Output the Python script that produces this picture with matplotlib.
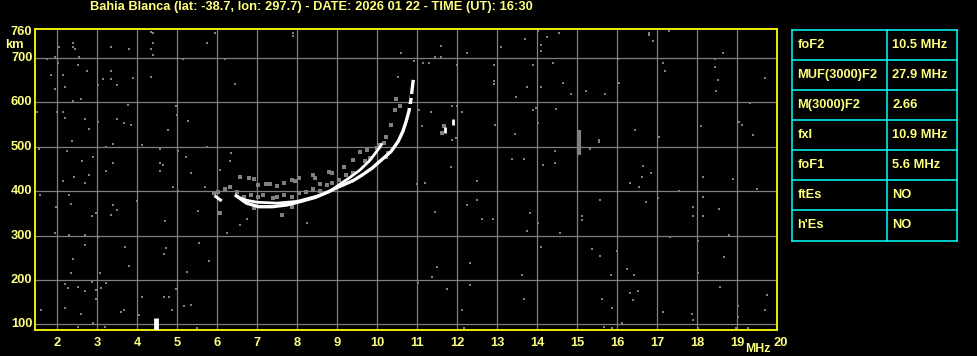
import matplotlib
matplotlib.use("Agg")
import matplotlib.pyplot as plt

# ionogram header
station = "Bahia Blanca"
lat, lon = -38.7, 297.7
date_str = "2026 01 22"
time_str = "16:30"

# frequency / height axes
x_ticks = list(range(2, 20))
y_ticks = [100, 200, 300, 400, 500, 600, 700]

# main echo traces (MHz, km)
trace_lo_f = [6.44, 6.56, 6.73, 7.03, 7.38, 7.74, 8.09, 8.45, 8.69, 9.04, 9.40, 9.63,
              9.87, 10.11, 10.34, 10.52, 10.64, 10.72, 10.79, 10.84, 10.87, 10.90]
trace_lo_h = [392, 384, 373, 365, 365, 369, 377, 386, 395, 410, 424, 437,
              452, 471, 489, 512, 535, 557, 580, 606, 629, 651]
trace_hi_f = [6.45, 6.7, 7.0, 7.5, 8.0, 8.5, 8.8, 9.07, 9.3, 9.57, 9.82, 10.07, 10.12]
trace_hi_h = [390, 380, 375, 373, 377, 389, 399, 416, 430, 448, 470, 500, 508]
trace_low_start_f = [5.96, 6.08]
trace_low_start_h = [388, 380]

# gaps in the steep part of the trace
gap_f = [10.86, 10.81]
gap_h = [615, 592]

# small white echoes
white_f = [11.885, 11.69]
white_h = [555, 537]

# grey clutter next to the trace
clutter_f = [6.68, 6.85, 7.03, 7.15, 7.39, 7.50, 7.68, 7.86, 8.04, 8.21, 8.39, 8.57, 8.75,
             8.86, 9.04, 9.22, 9.40, 9.69, 9.81, 9.99, 10.05, 10.22, 10.28, 6.79, 6.93,
             7.03, 7.21, 7.33, 7.50, 7.68, 7.86, 7.95, 8.04, 8.39, 8.45, 8.57, 8.80, 8.86,
             9.16, 9.40, 9.57, 9.75, 6.56, 6.50, 6.32, 6.20, 5.91, 6.02, 6.08, 6.91, 7.86,
             7.62, 10.34, 10.22, 10.44, 10.58, 10.16, 10.48, 11.62, 11.67]
clutter_h = [388, 391, 388, 391, 384, 388, 391, 388, 395, 399, 406, 401, 414,
             418, 425, 437, 440, 467, 474, 497, 504, 478, 485, 429, 428,
             414, 416, 416, 412, 418, 425, 422, 429, 437, 429, 416, 444, 440,
             455, 470, 489, 493, 433, 399, 410, 406, 395, 399, 350, 361, 365,
             346, 549, 523, 583, 591, 508, 608, 531, 546]

# scattered noise dots
noise_f = [2.03, 2.53, 2.75, 1.85, 2.14, 3.15, 3.33, 3.33, 3.48, 3.03, 3.90, 4.34, 2.20,
           1.94, 2.39, 2.59, 6.44, 10.93, 11.15, 11.29, 12.00, 12.92, 13.89, 14.39, 14.84,
           14.64, 13.75, 14.10, 13.48, 15.23, 15.69, 16.04, 17.14, 17.20, 18.45, 18.53,
           18.47, 19.69, 19.33, 12.92, 12.92, 10.53, 12.12, 12.00, 11.88, 11.34,
           1.49, 2.00, 2.14, 2.18, 2.69, 3.03, 3.48, 3.66, 3.84, 3.78, 4.96, 4.98, 5.28,
           4.76, 2.80, 2.36, 3.40, 4.13, 1.54, 2.24, 3.22, 13.89, 13.97, 14.48, 14.03,
           12.95, 13.44, 15.55, 15.55, 16.45, 17.04, 18.09, 19.04, 19.12, 19.39, 11.67,
           11.86, 11.97, 11.11, 11.05,
           4.58, 5.03, 5.21, 4.58, 4.64, 5.73, 2.63, 2.89, 3.22, 3.40, 4.57, 5.34, 2.80,
           2.42, 2.14, 2.68, 4.90, 5.02, 5.69, 6.32, 6.34, 6.08, 10.99, 11.19, 11.84,
           12.50, 13.38, 13.68, 14.15, 14.45, 14.45, 15.31, 16.32, 16.55, 16.61, 16.65,
           16.85, 18.15, 18.90, 19.49, 17.54,
           1.56, 2.30, 1.98, 2.33, 3.40, 3.48, 3.34, 2.98, 2.87, 3.99, 4.69, 5.53, 6.08,
           6.73, 6.56, 6.24, 7.60, 8.24, 1.94, 2.30, 2.69, 3.03, 12.24, 12.50, 11.44,
           12.63, 12.89, 13.83, 14.03, 13.74, 14.58, 15.13, 15.13, 15.58, 16.73, 17.03,
           17.89, 17.89, 18.15, 18.15, 18.54, 18.80,
           2.69, 3.69, 4.72, 4.66, 5.55, 5.79, 2.39, 3.80, 3.07, 2.33, 5.23, 11.49, 11.38,
           12.33, 14.09, 15.37, 15.58, 16.00, 16.25, 16.43, 17.32, 18.03, 18.03, 18.68,
           15.84, 13.63,
           2.20, 2.27, 2.87, 3.22, 2.98, 3.10, 2.51, 2.69, 2.98, 4.96, 4.66, 4.78, 3.66,
           3.60, 4.04, 2.18, 1.59, 2.59, 4.88, 5.16, 5.34, 4.13, 11.03, 11.74, 12.12,
           12.33, 13.68, 15.63, 15.88, 16.32, 16.53, 16.40, 17.87, 17.89, 18.56, 19.01,
           19.01, 19.69, 19.75, 17.14,
           2.51, 2.89, 3.19, 5.49, 12.18, 15.67, 15.87, 16.12, 18.03, 18.96, 19.27,
           1.74, 1.94, 2.04, 2.39, 2.39, 2.44, 2.54, 3.34, 3.79, 4.34, 4.39, 4.39, 4.34,
           4.39, 5.14, 5.74, 5.94, 6.19, 7.89, 7.89, 10.59, 11.59, 11.59, 11.44, 12.24,
           13.09, 13.69, 14.02, 14.09, 14.09, 14.24, 14.54, 16.79, 16.79, 16.89, 17.29,
           18.64, 18.44, 16.02]
noise_h = [690, 685, 672, 662, 662, 653, 653, 672, 640, 640, 655, 658, 636,
           630, 604, 607, 641, 694, 690, 690, 685, 685, 685, 690, 619,
           645, 636, 636, 613, 627, 619, 645, 690, 672, 681, 651,
           627, 655, 598, 649, 641, 658, 578, 591, 591, 578,
           578, 578, 578, 564, 563, 557, 563, 553, 549, 594, 591, 572, 559,
           537, 540, 513, 506, 504, 496, 491, 499, 583, 587, 585, 553,
           549, 529, 516, 510, 537, 523, 546, 557, 549, 527, 546,
           516, 519, 546, 583,
           496, 491, 476, 463, 459, 499, 469, 476, 446, 463, 446, 440, 437,
           433, 422, 418, 410, 401, 409, 467, 485, 448, 416, 418, 455,
           424, 473, 473, 459, 491, 464, 496, 418, 410, 433, 457,
           442, 433, 428, 406, 400,
           391, 391, 365, 371, 369, 358, 346, 350, 343, 378, 333, 355, 349,
           337, 324, 306, 344, 329, 306, 301, 301, 297, 369, 379, 352,
           337, 337, 350, 329, 310, 306, 343, 335, 379, 376, 384,
           365, 344, 388, 343, 360, 301,
           279, 275, 271, 258, 284, 243, 247, 231, 216, 216, 217, 228, 206,
           239, 275, 270, 254, 264, 224, 212, 296, 288, 216, 252,
           211, 211,
           191, 181, 196, 194, 177, 181, 185, 176, 158, 179, 161, 161, 133,
           127, 121, 136, 131, 123, 133, 140, 143, 161, 194, 180, 133,
           188, 157, 156, 136, 170, 176, 155, 124, 109, 185, 140,
           117, 131, 166, 128,
           94, 102, 94, 92, 91, 93, 91, 102, 92, 92, 92,
           698, 703, 725, 734, 725, 721, 703, 725, 721, 760, 757, 735, 721,
           707, 698, 735, 757, 698, 750, 756, 712, 728, 703, 703, 712,
           725, 744, 762, 730, 716, 748, 757, 757, 752, 739, 762,
           712, 698, 698]

# grey column near 15 MHz and white bar near 4.5 MHz
col_f, col_h0, col_h1 = 15.05, 482, 538
bar_f, bar_h0, bar_h1 = 4.46, 87, 113

# parameter table
param_names = ["foF2", "MUF(3000)F2", "M(3000)F2", "fxI", "foF1", "ftEs", "h'Es"]
param_values = ["10.5 MHz", "27.9 MHz", "2.66", "10.9 MHz", "5.6 MHz", "NO", "NO"]

txt_col = "#ffff80"
font = "Liberation Sans"
fs = 9.3

fig = plt.figure(figsize=(9.78, 3.56), dpi=100, facecolor="black")
ax = fig.add_axes([35.3 / 978, 1 - 330 / 356, 742 / 978, 300.7 / 356])
ax.set_facecolor("black")
ax.set_xlim(1.45, 20)
ax.set_ylim(87, 765)

for f in x_ticks:
    ax.axvline(f, color="#808080", lw=0.9, zorder=1)
for h in y_ticks:
    ax.axhline(h, color="#808080", lw=0.9, zorder=1)

ax.plot(noise_f, noise_h, "s", color="#808080", ms=1.7, mew=0, zorder=2)
ax.plot(clutter_f, clutter_h, "s", color="#808080", ms=3.4, mew=0, zorder=2)
ax.vlines(col_f, col_h0, col_h1, color="#808080", lw=3, zorder=2)

ax.plot(trace_lo_f, trace_lo_h, color="white", lw=2.4, solid_capstyle="butt", zorder=3)
ax.plot(trace_hi_f, trace_hi_h, color="white", lw=2.0, solid_capstyle="butt", zorder=3)
ax.plot(trace_low_start_f, trace_low_start_h, color="white", lw=2.2, zorder=3)
ax.plot(gap_f, gap_h, "s", color="black", ms=3, mew=0, zorder=4)
ax.plot(white_f, white_h, "|", color="white", ms=5, mew=2, zorder=3)
ax.vlines(bar_f, bar_h0, bar_h1, color="white", lw=3.5, zorder=3)

for s in ax.spines.values():
    s.set_color("#ffff00")
    s.set_linewidth(1.3)
ax.set_xticks([])
ax.set_yticks([])

# tick labels
for f in x_ticks:
    ax.text(f, 72, str(f), color=txt_col, fontsize=fs, fontweight="bold",
            family=font, ha="center", va="top", clip_on=False)
ax.text(19.9, 72, "20", color=txt_col, fontsize=fs, fontweight="bold",
        family=font, ha="left", va="top", clip_on=False)
for h in y_ticks + [760]:
    ax.text(1.38, h, str(h), color=txt_col, fontsize=fs, fontweight="bold",
            family=font, ha="right", va="center", clip_on=False)
fig.text(5 / 978, 1 - 45 / 356, "km", color=txt_col, fontsize=fs, fontweight="bold",
         family=font, va="center")
fig.text(771 / 978, 1 - 349 / 356, "MHz", color=txt_col, fontsize=8.8, fontweight="bold",
         family=font, ha="right", va="center")

title = "{} (lat: {}, lon: {}) - DATE: {} - TIME (UT): {}".format(station, lat, lon, date_str, time_str)
fig.text(90 / 978, 1 - 7 / 356, title, color=txt_col, fontsize=fs, fontweight="bold",
         family=font, va="center")

# parameter table on the right
tab = fig.add_axes([792.3 / 978, 1 - 240.5 / 356, 165 / 978, 210.5 / 356])
tab.set_facecolor("black")
tab.set_xlim(0, 165)
tab.set_ylim(210, 0)
tab.axis("off")
for i in range(len(param_names) + 1):
    tab.plot([0, 165], [i * 30, i * 30], color="#00ffff", lw=1.1, clip_on=False)
tab.plot([0, 0], [0, 210], color="#00ffff", lw=1.1, clip_on=False)
tab.plot([95, 95], [0, 210], color="#00ffff", lw=1.1, clip_on=False)
tab.plot([165, 165], [0, 210], color="#00ffff", lw=1.1, clip_on=False)
for i, (name, val) in enumerate(zip(param_names, param_values)):
    tab.text(5, i * 30 + 15, name, color=txt_col, fontsize=fs, fontweight="bold",
             family=font, va="center")
    tab.text(100, i * 30 + 15, val, color=txt_col, fontsize=fs, fontweight="bold",
             family=font, va="center")

fig.savefig("out.png", dpi=100, facecolor="black")
